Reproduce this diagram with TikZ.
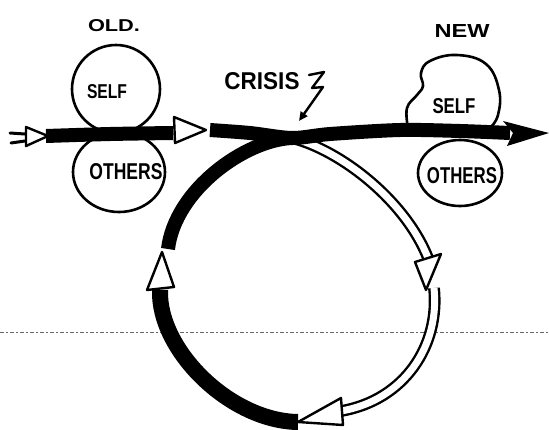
\documentclass[tikz,border=0pt]{standalone}
\usepackage{fontspec}
\setmainfont{Liberation Sans}
\usepackage{graphicx}
\usetikzlibrary{arrows.meta,shapes.geometric}
\newcommand\handtext[3]{\resizebox{#1pt}{#2pt}{\bfseries #3}}
\begin{document}
\begin{tikzpicture}[x=1pt,y=-1pt,
  pen/.style={line width=2.6pt, line cap=round, line join=round},
  flow/.style={line width=14pt},
  hollowtip/.style={pen, fill=white, line width=2.4pt},
  hollowband/.style={line width=2.4pt, double=white, double distance=7pt},
  blob/.style={pen, draw, ellipse, inner sep=0pt},
  lbl/.style={inner sep=0pt}]
\useasboundingbox (0,0) rectangle (549,429);

% fold line
\coordinate (foldL) at (0,332);
\coordinate (foldR) at (549,332);
\draw[black!60, line width=0.9pt, dash pattern=on 4pt off 2pt on 2pt off 2pt] (foldL) -- (foldR);

% labels
\node[lbl] (oldlabel) at (114,26) {\handtext{52}{12}{OLD.}};
\node[lbl] (newlabel) at (462,31) {\handtext{55}{13}{NEW}};
\node[lbl] (crisislabel) at (262,81) {\handtext{75}{17}{CRISIS}};

% old self / others
\node[blob, minimum width=88pt, minimum height=88pt] (oldself) at (116,89) {};
\node[lbl] (oldselftext) at (107,92) {\handtext{40}{14}{SELF}};
\node[blob, minimum width=92pt, minimum height=80pt] (oldothers) at (119,172) {};
\node[lbl] (oldotherstext) at (126,172) {\handtext{73}{16}{OTHERS}};

% new self / others
\draw[pen] plot[smooth, tension=0.7] coordinates {(408,128) (407,108) (417,95) (423,86) (421,73) (430,61) (457,55) (486,64) (499,90) (498,115) (490,128)};
\node[lbl] (newselftext) at (454,106) {\handtext{43}{15}{SELF}};
\node[blob, minimum width=84pt, minimum height=66pt] (newothers) at (460,173) {};
\node[lbl] (newotherstext) at (462,176) {\handtext{70}{16}{OTHERS}};

% key points
\coordinate (crisis) at (292,138);
\coordinate (rbase) at (428,258);
\coordinate (rtip) at (426,290);
\coordinate (rstart) at (434,288);
\coordinate (bbase) at (341,411);
\coordinate (btip) at (298,422);
\coordinate (ltip) at (162,252);
\coordinate (lend) at (168,249);
\coordinate (lbase) at (160,290);

% hollow (double) bands on the right
\draw[hollowband] (crisis) .. controls (340,150) and (405,200) .. (rbase);
\draw[hollowband] (rstart) .. controls (440,345) and (405,400) .. (bbase);

% black loop on the left
\draw[flow] (crisis) .. controls (245,140) and (175,190) .. (lend);
\draw[flow, line width=16pt] (lbase) .. controls (158,350) and (230,421) .. (btip);

% main line
\draw[pen, line width=3pt] (10,133) -- (25,134);
\draw[pen, line width=3pt] (11,143) -- (25,141);
\draw[flow] plot[smooth] coordinates {(46,136) (110,134) (173,133)};
\draw[flow] plot[smooth] coordinates {(210,130) (250,133) (crisis) (330,134) (400,130) (460,131) (510,133)};
\coordinate (endtip) at (549,133);
\fill (503,121) -- (endtip) -- (507,146) -- (513,133) -- cycle;

% hollow arrowheads
\draw[hollowtip] (26,127) -- (48,136) -- (26,146) -- cycle;
\draw[hollowtip] (174,117) -- (206,130) -- (175,143) -- cycle;
\draw[hollowtip] (415,262) -- (441,254) -- (rtip) -- cycle;
\draw[hollowtip] (341,398) -- (343,425) -- (btip) -- cycle;
\draw[hollowtip] (147,290) -- (174,287) -- (ltip) -- cycle;

% lightning
\coordinate (boltA) at (309,75);
\coordinate (boltEnd) at (299,121);
\draw[pen, line width=2.4pt, -{Triangle[length=9pt,width=8pt]}] (boltA) -- (324,72) -- (312,88) -- (323,87) -- (boltEnd);
\end{tikzpicture}
\end{document}
